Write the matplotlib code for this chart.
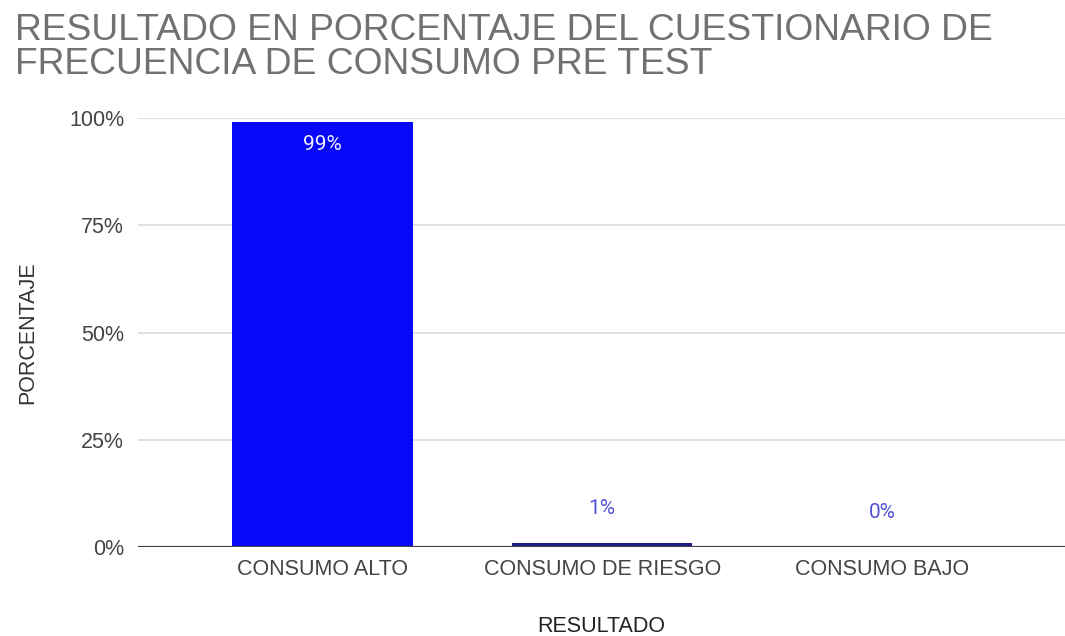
import matplotlib.pyplot as plt
from matplotlib.ticker import FuncFormatter

plt.rcParams['font.family'] = ['Liberation Sans', 'DejaVu Sans']

categories = ["CONSUMO ALTO", "CONSUMO DE RIESGO", "CONSUMO BAJO"]
percentages = [99, 1, 0]
bar_colors = ["#0808f8", "#1c1c8c", "#0808f8"]
label_colors = ["#f0eeff", "#5252d6", "#5252d6"]
y_ticks = [0, 25, 50, 75, 100]

title = "RESULTADO EN PORCENTAJE DEL CUESTIONARIO DE\nFRECUENCIA DE CONSUMO PRE TEST"


def main():
    fig = plt.figure(figsize=(10.65, 6.36), dpi=100)
    ax = fig.add_axes([0.1296, 0.1392, 0.8704, 0.6753])

    x = list(range(len(categories)))
    ax.bar(x, percentages, width=0.645, color=bar_colors, zorder=3)

    # value labels: inside the tall bar, above the short ones
    for i, v in enumerate(percentages):
        if v > 50:
            ax.annotate("{}%".format(v), (i, v), xytext=(0, -9), textcoords="offset points",
                        ha="center", va="top", fontsize=15, color=label_colors[i],
                        family=["Roboto", "DejaVu Sans"], zorder=4)
        else:
            ax.annotate("{}%".format(v), (i, v), xytext=(0, 18), textcoords="offset points",
                        ha="center", va="bottom", fontsize=15, color=label_colors[i],
                        family=["Roboto", "DejaVu Sans"], zorder=4)

    ax.set_xlim(-0.66, 2.655)
    ax.set_ylim(0, 100)
    ax.set_yticks(y_ticks)
    ax.yaxis.set_major_formatter(FuncFormatter(lambda v, _: "{:.0f}%".format(v)))
    ax.set_xticks(x)
    ax.set_xticklabels(categories)

    ax.grid(axis="y", color="#d9d9d9", linewidth=1.2, zorder=0)
    ax.axhline(0, color="#444444", linewidth=1.6, zorder=5)
    for s in ax.spines.values():
        s.set_visible(False)
    ax.tick_params(axis="both", length=0, labelsize=15.5, labelcolor="#444444")
    ax.tick_params(axis="y", pad=10)
    ax.tick_params(axis="x", pad=8)

    ax.set_ylabel("PORCENTAJE", fontsize=15.5, color="#333333", labelpad=22)
    ax.set_xlabel("RESULTADO", fontsize=15.5, color="#222222", labelpad=26)

    fig.text(0.0141, 0.9796, title, fontsize=26.8, color="#717171", ha="left", va="top",
             linespacing=0.98)

    fig.savefig("out.png", dpi=100)


if __name__ == "__main__":
    main()
